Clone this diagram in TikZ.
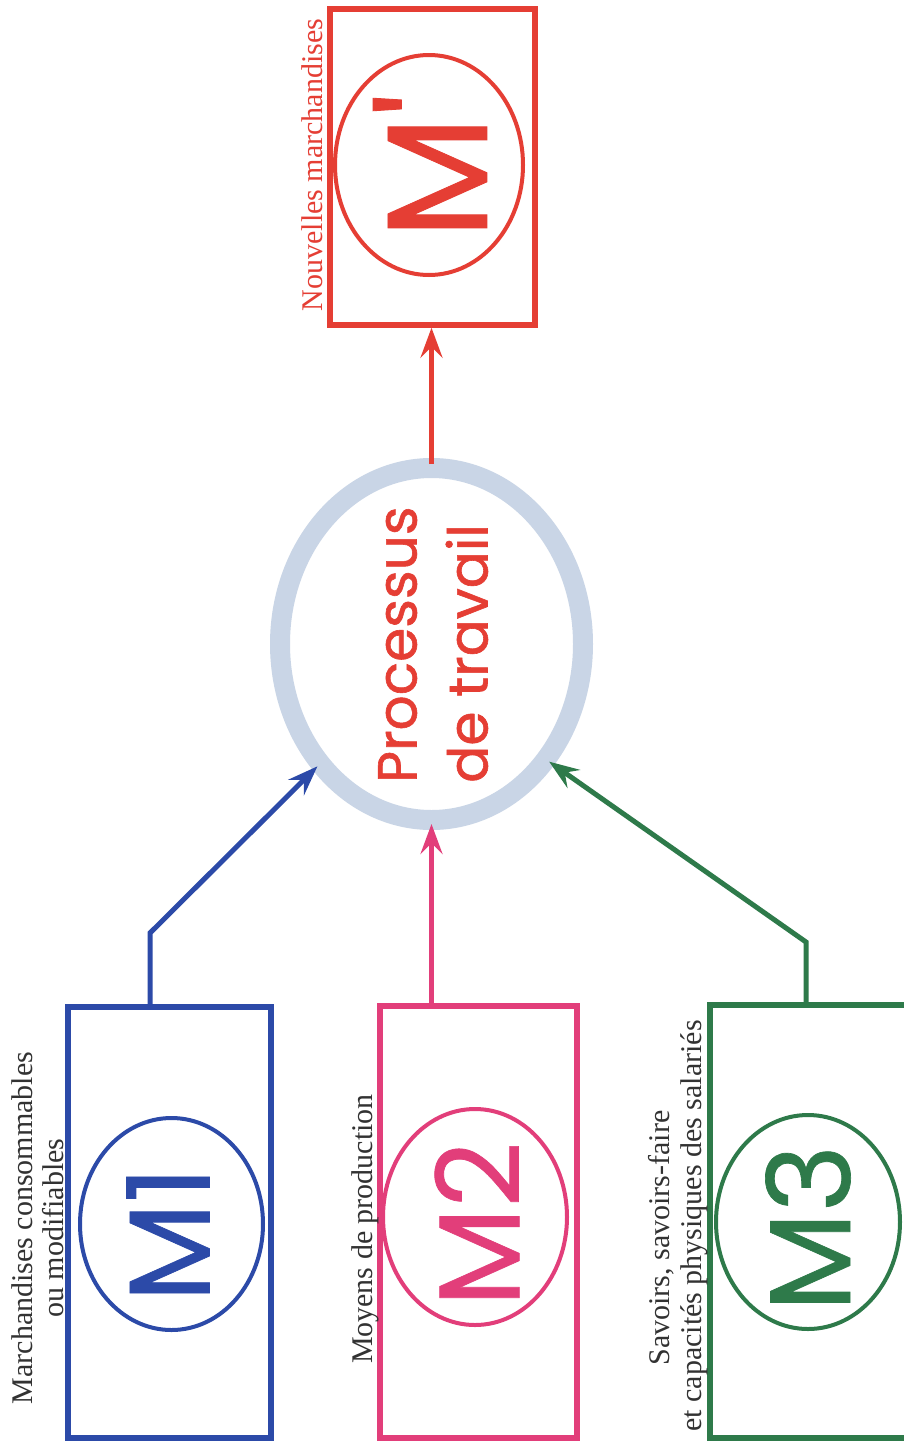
\documentclass[tikz,border=0pt]{standalone}
\usepackage{fontspec}
\setmainfont{Liberation Serif}
\newfontfamily\geo[FakeBold=0.6]{Poppins}
\newfontfamily\geoproc[FakeBold=1.1]{Poppins}
\usetikzlibrary{arrows.meta,shapes.geometric}

\definecolor{cRed}{RGB}{229,62,52}
\definecolor{cBlue}{RGB}{44,74,168}
\definecolor{cPink}{RGB}{226,62,122}
\definecolor{cGreen}{RGB}{46,122,74}
\definecolor{cRing}{RGB}{201,213,230}
\definecolor{cText}{RGB}{50,50,50}

\begin{document}
\begin{tikzpicture}[x=1pt,y=-1pt,
  boxstyle/.style={draw, rectangle, line width=5.5pt, inner sep=0pt},
  ovalstyle/.style={draw, ellipse, line width=4pt, inner sep=0pt},
  bigm/.style={rotate=90, inner sep=0pt, font=\geo\fontsize{115}{115}\selectfont},
  lbl/.style={rotate=90, anchor=base, inner sep=0pt, font=\fontsize{30}{31}\selectfont, text=cText},
  arr/.style={line width=5pt, -{Stealth[length=30pt,width=22pt,inset=11pt]}},
]
\useasboundingbox (0,0) rectangle (904,1443);
\fill[white] (0,0) rectangle (904,1443);

% central ring
\node[draw=cRing, ellipse, line width=20pt, minimum width=303pt, minimum height=352pt, outer sep=4pt] (ring) at (431.5,644) {};
\node[rotate=90, anchor=north west, inner sep=0pt, align=left, text=cRed,
      font=\geoproc\fontsize{55}{71}\selectfont] (proc) at (378,783) {Processus\\de travail};

% output box M'
\node[boxstyle, draw=cRed, minimum width=205pt, minimum height=316pt] (mpbox) at (432.5,167) {};
\node[ovalstyle, draw=cRed, minimum width=188pt, minimum height=220pt] (mpoval) at (429,165) {};
\node[bigm, text=cRed, font=\geo\fontsize{143}{143}\selectfont] (mptext) at (430,166) {M\textquotesingle};
\node[lbl, text=cRed] (mplab) at (322,165) {Nouvelles marchandises};

% M1
\node[boxstyle, draw=cBlue, minimum width=203pt, minimum height=431pt] (m1box) at (169.5,1222.5) {};
\node[ovalstyle, draw=cBlue, minimum width=183pt, minimum height=212pt] (m1oval) at (171.5,1224) {};
\node[bigm, text=cBlue] (m1text) at (168,1234) {M1};
\node[lbl] (m1lab1) at (32,1228) {Marchandises consommables};
\node[lbl] (m1lab2) at (63,1228) {ou modifiables};

% M2
\node[boxstyle, draw=cPink, minimum width=197pt, minimum height=432pt] (m2box) at (478.5,1222) {};
\node[ovalstyle, draw=cPink, minimum width=184pt, minimum height=216pt] (m2oval) at (475,1217) {};
\node[bigm, text=cPink] (m2text) at (477,1224) {M2};
\node[lbl] (m2lab) at (372,1229) {Moyens de production};

% M3
\node[boxstyle, draw=cGreen, minimum width=198pt, minimum height=433pt] (m3box) at (809,1221.5) {};
\node[ovalstyle, draw=cGreen, minimum width=184pt, minimum height=214pt] (m3oval) at (808,1222) {};
\node[bigm, text=cGreen] (m3text) at (808,1228) {M3};
\node[lbl] (m3lab1) at (669,1238) {Savoirs, savoirs-faire};
\node[lbl] (m3lab2) at (701,1226) {et capacités physiques des salariés};

% connectors
\coordinate (k1) at (150,933);
\coordinate (k3) at (806,942);
\draw[arr, draw=cRed] (ring.north) -- (ring.north |- mpbox.south);
\draw[arr, draw=cBlue] (k1 |- m1box.north) -- (k1) -- (ring.227.5);
\draw[arr, draw=cPink] (m2box.north -| ring.south) -- (ring.south);
\draw[arr, draw=cGreen] (k3 |- m3box.north) -- (k3) -- (ring.315);
\end{tikzpicture}
\end{document}
